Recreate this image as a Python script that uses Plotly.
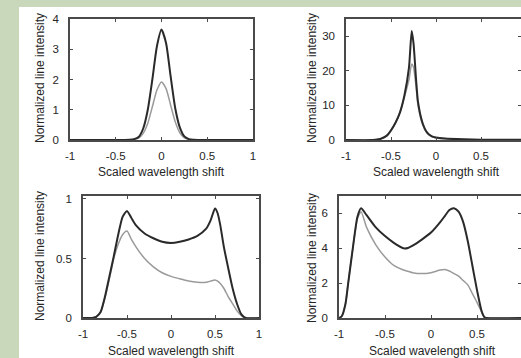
import plotly.graph_objects as go

W, H = 521, 358

# ---------------- data ----------------
# Panel 1 (top-left)
p1_x = [-1, -0.5, -0.35, -0.3, -0.25, -0.2, -0.15, -0.1, -0.05, 0, 0.05, 0.1, 0.15, 0.2, 0.25, 0.3, 0.35, 0.5, 1]
p1_dark = [0, 0, 0.01, 0.03, 0.1, 0.38, 1.0, 2.0, 3.1, 3.65, 3.2, 2.1, 1.05, 0.42, 0.12, 0.03, 0.01, 0, 0]
p1_light = [0, 0, 0.0, 0.02, 0.06, 0.22, 0.55, 1.1, 1.65, 1.92, 1.7, 1.15, 0.6, 0.24, 0.07, 0.02, 0.0, 0, 0]

# Panel 2 (top-right)
p2_x = [-1, -0.7, -0.62, -0.55, -0.5, -0.45, -0.4, -0.35, -0.3, -0.27, -0.25, -0.22, -0.2, -0.15, -0.1, -0.05, 0, 0.1, 0.3, 0.5, 0.95]
p2_dark = [0, 0, 0.3, 1.2, 2.8, 5, 8, 13, 21, 31.5, 28, 17, 11, 5, 2.2, 1.1, 0.7, 0.4, 0.2, 0.1, 0.05]
p2_light = [0, 0, 0.3, 1.2, 2.8, 5, 8, 12.5, 17.5, 22, 21, 15, 10, 4.5, 2.0, 1.0, 0.6, 0.35, 0.15, 0.08, 0.04]

# Panel 3 (bottom-left)
p3_x = [-1, -0.9, -0.85, -0.8, -0.75, -0.7, -0.65, -0.6, -0.55, -0.5, -0.45, -0.4, -0.3, -0.2, -0.1, 0,
        0.1, 0.2, 0.3, 0.4, 0.45, 0.5, 0.53, 0.56, 0.6, 0.65, 0.7, 0.75, 0.8, 0.85, 1]
p3_dark = [0, 0, 0.01, 0.05, 0.18, 0.35, 0.52, 0.7, 0.85, 0.9, 0.84, 0.78, 0.71, 0.67, 0.64, 0.63,
           0.64, 0.66, 0.69, 0.75, 0.82, 0.92, 0.88, 0.78, 0.6, 0.42, 0.25, 0.12, 0.03, 0.0, 0]
p3_light = [0, 0, 0.01, 0.05, 0.17, 0.33, 0.5, 0.62, 0.7, 0.73, 0.66, 0.6, 0.5, 0.43, 0.38, 0.35,
            0.33, 0.31, 0.3, 0.3, 0.31, 0.32, 0.31, 0.29, 0.25, 0.18, 0.12, 0.06, 0.02, 0.0, 0]

# Panel 4 (bottom-right)
p4_x = [-1, -0.97, -0.93, -0.9, -0.85, -0.8, -0.76, -0.7, -0.6, -0.5, -0.4, -0.3, -0.25, -0.2, -0.1, 0,
        0.1, 0.15, 0.2, 0.25, 0.3, 0.35, 0.4, 0.45, 0.5, 0.55, 0.58, 0.6, 0.98]
p4_dark = [0, 0.1, 0.8, 2.0, 4.0, 5.8, 6.3, 5.9, 5.2, 4.7, 4.3, 4.0, 4.02, 4.15, 4.5, 4.9,
           5.5, 5.85, 6.2, 6.3, 6.1, 5.5, 4.4, 3.0, 1.6, 0.4, 0.05, 0, 0]
p4_light = [0, 0.1, 0.8, 2.0, 4.0, 5.7, 6.1, 5.2, 4.2, 3.5, 3.0, 2.75, 2.68, 2.6, 2.55, 2.6,
            2.75, 2.78, 2.7, 2.55, 2.4, 2.15, 1.9, 1.4, 0.9, 0.35, 0.05, 0, 0]

xtick_vals = [-1, -0.5, 0, 0.5, 1]
xtick_text = ["-1", "-0.5", "0", "0.5", "1"]
p1_yticks = [0, 1, 2, 3, 4]
p2_yticks = [0, 10, 20, 30]
p3_yticks = [0, 0.5, 1]
p3_yticktext = ["0", "0.5", "1"]
p4_yticks = [0, 2, 4, 6]

x_title = "Scaled wavelength shift"
y_title = "Normalized line intensity"

# ---------------- layout helpers ----------------
def xd(l, r):
    return [l / W, min(r / W, 1.0)]

def yd(top, bottom):
    return [(H - bottom) / H, (H - top) / H]

DARK = "#2a2a2a"
LIGHT = "#9a9a9a"
AX = "#4a4a4a"
TXT = "#262626"
FONT = "Liberation Sans, Arial, sans-serif"

panels = [
    dict(x=p1_x, d=p1_dark, l=p1_light, xdom=xd(70, 253), ydom=yd(19, 140), xr=[-1, 1], yr=[0, 4],
         yt=p1_yticks, ytt=[str(v) for v in p1_yticks], cut=False),
    dict(x=p2_x, d=p2_dark, l=p2_light, xdom=xd(346, 526), ydom=yd(19, 140), xr=[-1, -1 + (W - 346) / 90], yr=[0, 35],
         yt=p2_yticks, ytt=[str(v) for v in p2_yticks], cut=True),
    dict(x=p3_x, d=p3_dark, l=p3_light, xdom=xd(83, 259), ydom=yd(196, 318), xr=[-1, 1], yr=[0, 1.025],
         yt=p3_yticks, ytt=p3_yticktext, cut=False),
    dict(x=p4_x, d=p4_dark, l=p4_light, xdom=xd(339, 526), ydom=yd(196, 318), xr=[-1, -1 + (W - 339) / 92], yr=[0, 7],
         yt=p4_yticks, ytt=[str(v) for v in p4_yticks], cut=True),
]

fig = go.Figure()
layout = dict(
    width=W, height=H, margin=dict(l=0, r=0, t=0, b=0, pad=0, autoexpand=False),
    paper_bgcolor="#c9d7ba", plot_bgcolor="white", showlegend=False,
    font=dict(family=FONT, color=TXT, size=11),
)

extra = 5
for i, p in enumerate(panels, start=1):
    sx = "" if i == 1 else str(i)
    fig.add_trace(go.Scatter(x=p["x"], y=p["l"], mode="lines", line=dict(color=LIGHT, width=1.5, shape="spline", smoothing=0.6),
                             xaxis="x" + sx, yaxis="y" + sx, hoverinfo="skip"))
    fig.add_trace(go.Scatter(x=p["x"], y=p["d"], mode="lines", line=dict(color=DARK, width=2, shape="spline", smoothing=0.6),
                             xaxis="x" + sx, yaxis="y" + sx, hoverinfo="skip"))
    layout["xaxis" + sx] = dict(domain=p["xdom"], range=p["xr"], anchor="y" + sx, showgrid=False, zeroline=False,
                                showline=True, linecolor=AX, linewidth=1.5, mirror="ticks", ticks="inside",
                                ticklen=3, tickcolor=AX, tickvals=xtick_vals, ticktext=xtick_text,
                                tickfont=dict(size=11.5, color=TXT), ticklabelstandoff=4, automargin=False)
    layout["yaxis" + sx] = dict(domain=p["ydom"], range=p["yr"], anchor="x" + sx, showgrid=False, zeroline=False,
                                showline=True, linecolor=AX, linewidth=1.5,
                                mirror=False if p["cut"] else "ticks", ticks="inside",
                                ticklen=3, tickcolor=AX, tickvals=p["yt"], ticktext=p["ytt"],
                                tickfont=dict(size=11.5, color=TXT), ticklabelstandoff=7, automargin=False)
    if p["cut"]:
        # right-edge tick marks only (frame line falls just outside the picture)
        ya = "y" + str(extra)
        fig.add_trace(go.Scatter(x=[p["xr"][0]], y=[p["yr"][0]], mode="markers", marker=dict(opacity=0),
                                 xaxis="x" + sx, yaxis=ya, hoverinfo="skip", showlegend=False))
        layout["yaxis" + str(extra)] = dict(overlaying="y" + sx, side="right", anchor="x" + sx, range=p["yr"],
                                            showgrid=False, zeroline=False, showline=False, ticks="inside",
                                            ticklen=3, tickcolor=AX, tickvals=p["yt"], showticklabels=False,
                                            automargin=False)
        extra += 1

fig.update_layout(**layout)

# white page area
fig.add_shape(type="rect", xref="paper", yref="paper", x0=19 / W, x1=1.05, y0=-0.05, y1=(H - 7) / H,
              fillcolor="white", line=dict(width=0), layer="below")

# axis titles as annotations
xt_pos = [(161, 172), (436, 172), (171, 351), (432, 351)]
yt_pos = [(40, 78), (312, 78), (40, 256), (312, 258)]
for (cx, cy) in xt_pos:
    fig.add_annotation(text=x_title, xref="paper", yref="paper", x=cx / W, y=(H - cy) / H,
                       showarrow=False, xanchor="center", yanchor="middle", font=dict(size=12, color=TXT))
for (cx, cy) in yt_pos:
    fig.add_annotation(text=y_title, xref="paper", yref="paper", x=cx / W, y=(H - cy) / H, textangle=-90,
                       showarrow=False, xanchor="center", yanchor="middle", font=dict(size=12, color=TXT))

fig.write_html("out.html")
